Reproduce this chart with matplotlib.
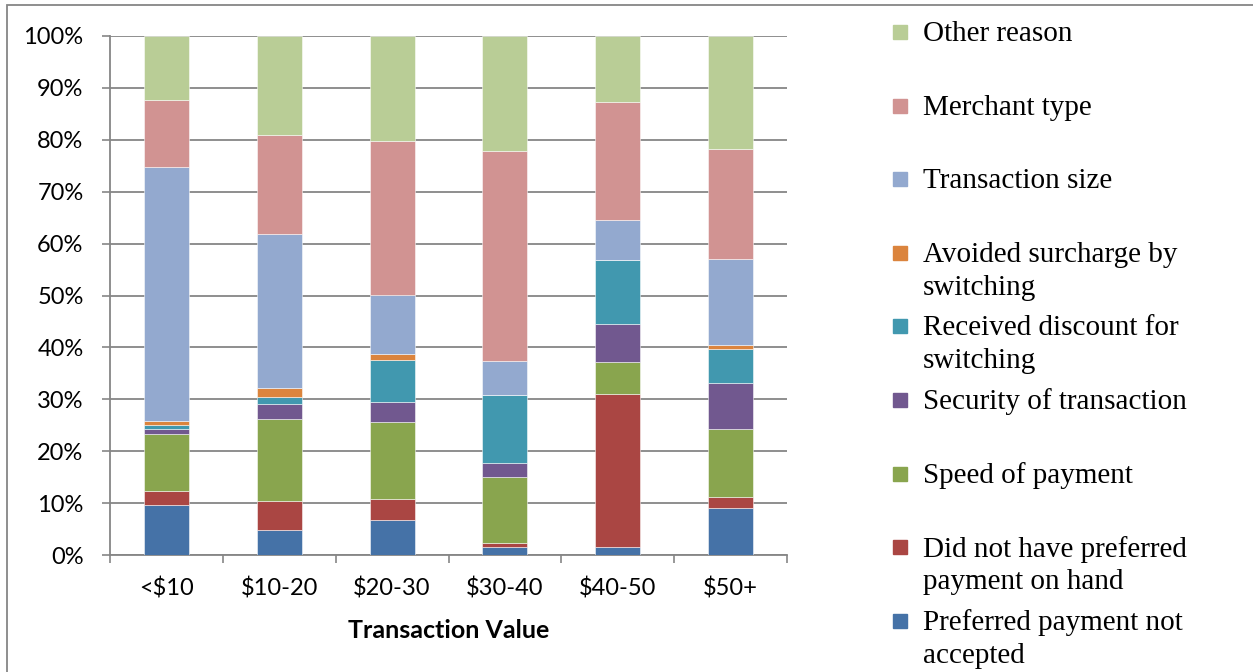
import numpy as np
import matplotlib.pyplot as plt
from matplotlib.patches import Rectangle
from matplotlib.ticker import PercentFormatter

categories = ["<$10", "$10-20", "$20-30", "$30-40", "$40-50", "$50+"]

# shares in percent, bottom segment first
not_accepted = [9.7, 4.9, 6.8, 1.5, 1.5, 9.1]
not_on_hand = [2.6, 5.6, 3.9, 0.9, 29.5, 2.1]
speed = [11.0, 15.8, 14.9, 12.6, 6.1, 13.0]
security = [1.0, 2.7, 3.9, 2.8, 7.5, 8.9]
discount = [0.7, 1.5, 8.0, 13.0, 12.3, 6.5]
surcharge = [0.9, 1.6, 1.3, 0.0, 0.0, 0.9]
size = [48.9, 29.8, 11.3, 6.5, 7.7, 16.6]
merchant = [12.9, 19.1, 29.7, 40.5, 22.7, 21.1]
other = [12.3, 19.0, 20.2, 22.2, 12.7, 21.8]

series = [not_accepted, not_on_hand, speed, security, discount,
          surcharge, size, merchant, other]
labels = ["Preferred payment not\naccepted",
          "Did not have preferred\npayment on hand",
          "Speed of payment",
          "Security of transaction",
          "Received discount for\nswitching",
          "Avoided surcharge by\nswitching",
          "Transaction size",
          "Merchant type",
          "Other reason"]
colors = ["#4572A7", "#AA4643", "#89A54E", "#71588F", "#4198AF",
          "#DB843D", "#93A9CF", "#D19392", "#B9CD96"]

W, H = 1253, 672
fig = plt.figure(figsize=(W / 100, H / 100), dpi=100)
ax = fig.add_axes([110 / W, 1 - 555 / H, 677 / W, 519 / H])

grid_col = "#868686"
x = np.arange(len(categories))
bottom = np.zeros(len(categories))
for vals, col in zip(series, colors):
    vals = np.array(vals)
    ax.bar(x, vals, 0.4, bottom=bottom, color=col,
           edgecolor=(1, 1, 1, 0.6), linewidth=0.6, zorder=3)
    bottom += vals

ax.set_xlim(-0.5, len(categories) - 0.5)
ax.set_ylim(0, 100)
ax.set_yticks(np.arange(0, 101, 10))
ax.yaxis.set_major_formatter(PercentFormatter(decimals=0))
ax.set_xticks(x)
ax.set_xticklabels(categories)
ax.set_xticks(np.arange(-0.5, len(categories), 1), minor=True)
ax.tick_params(axis="x", which="major", length=0, pad=16)
ax.tick_params(axis="x", which="minor", length=6, color=grid_col, width=1.2)
ax.tick_params(axis="y", length=6, color=grid_col, width=1.2, pad=13)
for lab in ax.get_xticklabels() + ax.get_yticklabels():
    lab.set_family("Lato")
    lab.set_fontsize(17)

ax.grid(axis="y", color=grid_col, linewidth=1.3, zorder=0)
for side in ["top", "right"]:
    ax.spines[side].set_visible(False)
for side in ["left", "bottom"]:
    ax.spines[side].set_color(grid_col)
    ax.spines[side].set_linewidth(1.3)

ax.set_xlabel("Transaction Value", family="Lato", fontweight="bold",
              fontsize=18, labelpad=14)

# legend, top entry first, one slot per entry as in the original
for i, (lab, col) in enumerate(zip(labels[::-1], colors[::-1])):
    yc = 31 + 73.6 * i
    fig.patches.append(Rectangle((893 / W, 1 - (yc + 8) / H), 14 / W, 14 / H,
                                 transform=fig.transFigure, color=col))
    for k, line in enumerate(lab.split("\n")):
        fig.text(923 / W, 1 - (yc + 3 + 33 * k) / H, line,
                 family="Liberation Serif", fontsize=21, va="center",
                 ha="left")

# outer chart frame
fig.patches.append(Rectangle((7 / W, -0.1), 1.2, 1 - 5 / H + 0.1,
                             transform=fig.transFigure, fill=False,
                             edgecolor=grid_col, linewidth=1.3))

plt.savefig("out.png", dpi=100)
